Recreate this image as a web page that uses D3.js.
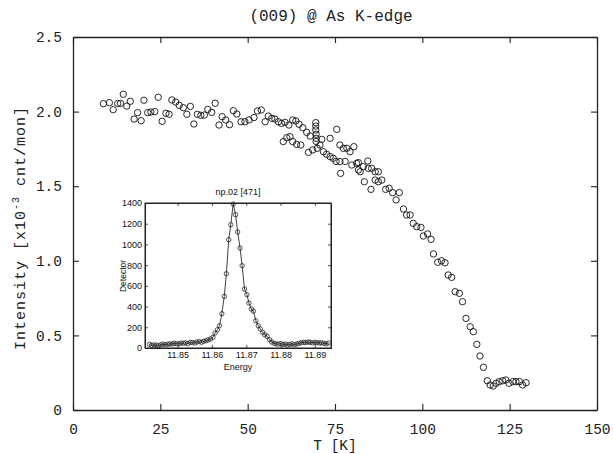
<!DOCTYPE html>
<html>
<head>
<meta charset="utf-8">
<script src="https://cdn.jsdelivr.net/npm/d3@7"></script>
<style>
  body { margin: 0; background: #fff; }
  svg { display: block; }
</style>
</head>
<body>
<svg width="613" height="454"></svg>
<script>
// main scan: (009) intensity vs temperature
const tempK = [8.7, 10.4, 11.5, 12.8, 13.6, 14.4, 15.4, 16.4, 17.5, 18.5, 19.5, 20.3, 21.4, 22.3, 23.4, 24.4,
  25.5, 26.6, 27.5, 28.3, 29.4, 30.4, 31.6, 32.6, 33.6, 34.6, 35.6, 36.6, 37.6, 38.6, 39.7, 40.7, 41.8, 42.7,
  43.7, 44.8, 45.9, 46.9, 48.1, 49.2, 50.4, 51.8, 52.8, 53.9, 55.0, 55.9, 56.9, 57.8, 58.8, 59.7, 60.7, 61.8,
  62.9, 63.8, 64.7, 65.8, 66.9, 67.9, 69.5, 69.5, 69.5, 69.6, 69.6, 69.6,
  60.2, 61.2, 62.1, 62.9, 64.0, 65.2, 67.4, 68.6, 69.9, 70.7, 71.2, 71.7, 72.6, 73.6, 73.6, 74.5, 75.5, 75.3,
  76.4, 76.4, 76.6, 77.4, 77.9, 78.4, 79.3, 79.8, 80.4, 81.2, 81.7, 81.7, 82.2,
  83.1, 84.4, 84.5, 85.5, 86.5, 87.4, 83.4, 85.3, 86.5, 87.4, 88.4, 89.5, 90.5, 91.5, 92.5, 93.4, 94.6, 95.5,
  96.5, 97.4, 98.4, 99.6, 100.3, 101.5, 102.5, 103.2, 104.4, 105.5, 106.5,
  107.4, 108.4, 109.4, 110.6, 111.5, 112.5, 113.7, 114.6, 115.6, 116.5, 117.5, 118.6, 119.4, 120.3, 121.1,
  122.0, 123.0, 123.9, 124.8, 125.9, 126.8, 127.8, 128.7, 129.7];
const intensity = [2.053, 2.06, 2.013, 2.055, 2.055, 2.116, 2.037, 2.069, 1.95, 1.993, 1.939, 2.076, 1.993, 1.997, 2.0, 2.096,
  1.935, 1.989, 1.982, 2.078, 2.064, 2.042, 2.026, 1.982, 2.035, 1.917, 1.982, 1.975, 1.977, 2.015, 1.995, 2.056, 1.91, 1.966,
  1.944, 1.912, 2.006, 1.984, 1.932, 1.932, 1.944, 1.96, 2.004, 2.011, 1.932, 1.97, 1.955, 1.95, 1.932, 1.921, 1.928, 1.91,
  1.944, 1.937, 1.915, 1.892, 1.861, 1.836, 1.926, 1.903, 1.877, 1.848, 1.821, 1.80,
  1.799, 1.825, 1.832, 1.799, 1.78, 1.776, 1.727, 1.743, 1.754, 1.776, 1.814, 1.731, 1.714, 1.821, 1.698, 1.687, 1.881, 1.666,
  1.776, 1.665, 1.586, 1.754, 1.666, 1.754, 1.731, 1.642, 1.765, 1.653, 1.609, 1.658, 1.597,
  1.631, 1.669, 1.62, 1.62, 1.597, 1.597, 1.53, 1.479, 1.541, 1.53, 1.541, 1.479, 1.486, 1.457, 1.408, 1.457, 1.347, 1.307,
  1.307, 1.251, 1.229, 1.224, 1.166, 1.18, 1.144, 1.046, 0.99, 1.0, 0.987,
  0.905, 0.889, 0.793, 0.782, 0.726, 0.614, 0.558, 0.525, 0.44, 0.362, 0.286, 0.196, 0.168, 0.161, 0.179,
  0.19, 0.196, 0.201, 0.179, 0.19, 0.19, 0.19, 0.168, 0.183];

const xTicks = [0, 25, 50, 75, 100, 125, 150];
const yTicks = [0, 0.5, 1.0, 1.5, 2.0, 2.5];

// inset: energy scan np.02 [471]
const energy = [11.8418, 11.8424, 11.8431, 11.8438, 11.8444, 11.8451, 11.8457, 11.8464, 11.8471, 11.8477,
  11.8484, 11.8490, 11.8497, 11.8504, 11.8510, 11.8517, 11.8523, 11.8530, 11.8537, 11.8543,
  11.8550, 11.8556, 11.8563, 11.8570, 11.8576, 11.8583, 11.8589, 11.8596, 11.8603, 11.8609,
  11.8616, 11.8622, 11.8629, 11.8636, 11.8642, 11.8649, 11.8655, 11.8662, 11.8669, 11.8675,
  11.8682, 11.8688, 11.8695, 11.8702, 11.8708, 11.8715, 11.8721, 11.8728, 11.8735, 11.8741,
  11.8748, 11.8754, 11.8761, 11.8768, 11.8774, 11.8781, 11.8787, 11.8794, 11.8801, 11.8807,
  11.8814, 11.8820, 11.8827, 11.8834, 11.8840, 11.8847, 11.8853, 11.8860, 11.8867, 11.8873,
  11.8880, 11.8886, 11.8893, 11.8900, 11.8906, 11.8913, 11.8919, 11.8926, 11.8933, 11.8939];
const detector = [35, 25, 30, 28, 22, 30, 38, 32, 35, 40, 38, 45, 42, 40, 48, 45, 50, 42, 55, 52,
  48, 58, 62, 55, 65, 70, 78, 87, 103, 144, 177, 215, 331, 498, 717, 1046, 1190, 1390, 1287, 1120,
  965, 795, 569, 515, 434, 376, 355, 263, 215, 183, 151, 128, 112, 80, 58, 45, 40, 38, 42, 35,
  38, 30, 35, 40, 32, 38, 45, 50, 55, 52, 58, 55, 50, 55, 52, 48, 50, 45, 40, 48];

const insetXTicks = [11.85, 11.86, 11.87, 11.88, 11.89];
const insetYTicks = [0, 200, 400, 600, 800, 1000, 1200, 1400];

const svg = d3.select('svg');
const monoFont = '"Liberation Mono", "DejaVu Sans Mono", monospace';
const sansFont = '"Liberation Sans", Arial, sans-serif';
const ink = '#222';

// ---- main plot ----
const margin = {top: 37, right: 16, bottom: 44, left: 73};
const width = 613, height = 454;

const xScale = d3.scaleLinear().domain([0, 150]).range([margin.left, width - margin.right]);
const yScale = d3.scaleLinear().domain([0, 2.5]).range([height - margin.bottom, margin.top]);

const styleAxis = (g, showText) => {
  g.selectAll('path.domain').attr('stroke', ink).attr('stroke-width', 1.3);
  g.selectAll('.tick line').attr('stroke', ink).attr('stroke-width', 1.1);
  g.selectAll('.tick text')
    .attr('font-family', monoFont).attr('font-size', 14.5).attr('fill', ink)
    .style('display', showText ? null : 'none');
};

const yFormat = d => d === 0 ? '0' : d3.format('.1f')(d);

svg.append('g')
  .attr('transform', `translate(0,${yScale(0)})`)
  .call(d3.axisBottom(xScale).tickValues(xTicks).tickSize(-6).tickSizeOuter(0).tickPadding(14))
  .call(g => styleAxis(g, true));

svg.append('g')
  .attr('transform', `translate(0,${yScale(2.5)})`)
  .call(d3.axisTop(xScale).tickValues(xTicks).tickSize(-6).tickSizeOuter(0))
  .call(g => styleAxis(g, false));

svg.append('g')
  .attr('transform', `translate(${xScale(0)},0)`)
  .call(d3.axisLeft(yScale).tickValues(yTicks).tickFormat(yFormat).tickSize(-6).tickSizeOuter(0).tickPadding(11))
  .call(g => styleAxis(g, true));

svg.append('g')
  .attr('transform', `translate(${xScale(150)},0)`)
  .call(d3.axisRight(yScale).tickValues(yTicks).tickSize(-6).tickSizeOuter(0))
  .call(g => styleAxis(g, false));

// title and axis labels
svg.append('text')
  .attr('x', 331).attr('y', 21)
  .attr('text-anchor', 'middle')
  .attr('font-family', monoFont).attr('font-size', 16).attr('fill', ink)
  .text('(009) @ As K-edge');

svg.append('text')
  .attr('x', 335).attr('y', 450)
  .attr('text-anchor', 'middle')
  .attr('font-family', monoFont).attr('font-size', 14.5).attr('fill', ink)
  .text('T [K]');

const yLab = svg.append('text')
  .attr('transform', 'translate(25,228) rotate(-90)')
  .attr('text-anchor', 'middle')
  .attr('font-family', monoFont).attr('font-size', 15).attr('fill', ink)
  .attr('letter-spacing', 1);
yLab.append('tspan').text('Intensity [x10');
yLab.append('tspan').attr('dy', -6).attr('font-size', 10).text('-3');
yLab.append('tspan').attr('dy', 6).text(' cnt/mon]');

// data points
const pts = tempK.map((t, i) => ({t, v: intensity[i]}));
svg.append('g')
  .selectAll('circle').data(pts)
  .enter().append('circle')
  .attr('cx', d => xScale(d.t))
  .attr('cy', d => yScale(d.v))
  .attr('r', 3.2)
  .attr('fill', 'none')
  .attr('stroke', '#111')
  .attr('stroke-width', 0.9);

// ---- inset ----
const inset = {left: 145, right: 331, top: 203, bottom: 348};
const ix = d3.scaleLinear().domain([11.8405, 11.8947]).range([inset.left, inset.right]);
const iy = d3.scaleLinear().domain([0, 1400]).range([inset.bottom, inset.top]);

const ig = svg.append('g');
ig.append('rect')
  .attr('x', inset.left).attr('y', inset.top)
  .attr('width', inset.right - inset.left).attr('height', inset.bottom - inset.top)
  .attr('fill', '#fff').attr('stroke', ink).attr('stroke-width', 1);

const styleInset = (g, showText) => {
  g.selectAll('path.domain').attr('stroke', ink).attr('stroke-width', 1);
  g.selectAll('.tick line').attr('stroke', ink).attr('stroke-width', 0.8);
  g.selectAll('.tick text')
    .attr('font-family', sansFont).attr('font-size', 9).attr('fill', '#111')
    .style('display', showText ? null : 'none');
};

ig.append('g')
  .attr('transform', `translate(0,${inset.bottom})`)
  .call(d3.axisBottom(ix).tickValues(insetXTicks).tickFormat(d3.format('.2f')).tickSize(-3).tickSizeOuter(0).tickPadding(4))
  .call(g => styleInset(g, true));
ig.append('g')
  .attr('transform', `translate(0,${inset.top})`)
  .call(d3.axisTop(ix).tickValues(insetXTicks).tickSize(-3).tickSizeOuter(0))
  .call(g => styleInset(g, false));
ig.append('g')
  .attr('transform', `translate(${inset.left},0)`)
  .call(d3.axisLeft(iy).tickValues(insetYTicks).tickFormat(d3.format('d')).tickSize(-3).tickSizeOuter(0).tickPadding(3))
  .call(g => styleInset(g, true));
ig.append('g')
  .attr('transform', `translate(${inset.right},0)`)
  .call(d3.axisRight(iy).tickValues(insetYTicks).tickSize(-3).tickSizeOuter(0))
  .call(g => styleInset(g, false));

ig.append('text')
  .attr('x', 238).attr('y', 195)
  .attr('text-anchor', 'middle')
  .attr('font-family', sansFont).attr('font-size', 9).attr('fill', '#111')
  .text('np.02 [471]');

ig.append('text')
  .attr('x', 238).attr('y', 370)
  .attr('text-anchor', 'middle')
  .attr('font-family', sansFont).attr('font-size', 9).attr('fill', '#111')
  .text('Energy');

ig.append('text')
  .attr('transform', 'translate(126,276) rotate(-90)')
  .attr('text-anchor', 'middle')
  .attr('font-family', sansFont).attr('font-size', 8.5).attr('fill', '#111')
  .text('Detector');

const scan = energy.map((e, i) => ({e, c: detector[i]}));
ig.append('path')
  .datum(scan)
  .attr('fill', 'none')
  .attr('stroke', '#111')
  .attr('stroke-width', 0.8)
  .attr('d', d3.line().x(d => ix(d.e)).y(d => iy(d.c)));

ig.append('g')
  .selectAll('circle').data(scan)
  .enter().append('circle')
  .attr('cx', d => ix(d.e))
  .attr('cy', d => iy(d.c))
  .attr('r', 2.2)
  .attr('fill', 'none')
  .attr('stroke', '#111')
  .attr('stroke-width', 0.7);
</script>
</body>
</html>
